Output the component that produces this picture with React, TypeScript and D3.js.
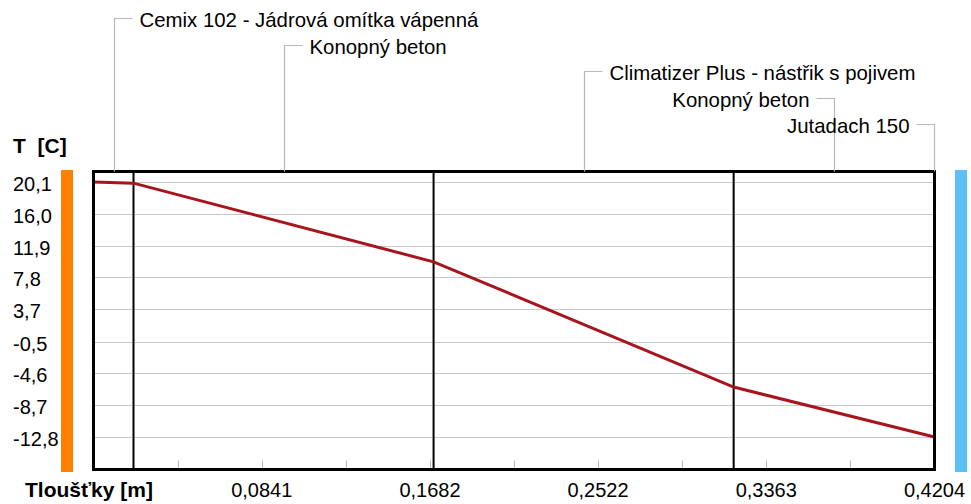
import * as d3 from "d3";
import React, { useEffect, useRef } from 'react'

// layers of the wall, thickness in m
const layerNames = [
  "Cemix 102 - Jádrová omítka vápenná",
  "Konopný beton",
  "Climatizer Plus - nástřik s pojivem",
  "Konopný beton",
  "Jutadach 150"
]
const layerBounds = [0, 0.02, 0.17, 0.32, 0.4200, 0.4204]

// temperature profile at layer boundaries
const tempX = [0, 0.02, 0.17, 0.32, 0.4204]
const tempY = [20.1, 19.95, 9.8, -6.35, -12.8]

const yTicks = [20.1, 16.0, 11.9, 7.8, 3.7, -0.5, -4.6, -8.7, -12.8]
const xTicks = [0.0841, 0.1682, 0.2522, 0.3363, 0.4204]
const xMinor = [0.042, 0.0841, 0.1261, 0.1682, 0.2102, 0.2522, 0.2943, 0.3363, 0.3784]

const W = 971
const H = 504
const font = "'Liberation Sans', Arial, sans-serif"

// czech number format: decimal comma, plain hyphen for minus
const fmt = (d: number, n: number) => d.toFixed(n).replace(".", ",")

const plotGraph = (el: SVGSVGElement) => {
  const svg = d3.select(el)
  svg.selectAll("*").remove()

  const x = d3.scaleLinear().domain([0, 0.4204]).range([93.5, 934.5])
  const y = d3.scaleLinear().domain([-16.99, 21.455]).range([469.5, 171.5])
  const [x0, x1] = x.range()
  const [y1, y0] = y.range()

  svg.append("rect").attr("width", W).attr("height", H).attr("fill", "#fff")

  // side bars: interior (warm) and exterior (cold)
  svg.append("rect").attr("x", 61).attr("y", 170).attr("width", 12).attr("height", 302).attr("fill", "#ff8000")
  svg.append("rect").attr("x", 955).attr("y", 170).attr("width", 12).attr("height", 302).attr("fill", "#5cbff5")

  // horizontal grid
  svg.append("g").selectAll("line").data(yTicks).enter().append("line")
    .attr("x1", x0).attr("x2", x1)
    .attr("y1", d => Math.round(y(d)) + 0.5).attr("y2", d => Math.round(y(d)) + 0.5)
    .attr("stroke", "#c8c8c8").attr("stroke-width", 1)

  // minor ticks on bottom
  svg.append("g").selectAll("line").data(xMinor).enter().append("line")
    .attr("x1", d => Math.round(x(d)) + 0.5).attr("x2", d => Math.round(x(d)) + 0.5)
    .attr("y1", y1 - 9).attr("y2", y1)
    .attr("stroke", "#b4b4b4")

  // layer boundaries
  const inner = layerBounds.slice(1, -1).filter(d => x(d) < x1 - 3)
  svg.append("g").selectAll("line").data(inner).enter().append("line")
    .attr("x1", d => x(d)).attr("x2", d => x(d))
    .attr("y1", y0).attr("y2", y1)
    .attr("stroke", "#000").attr("stroke-width", 2)

  // temperature line
  const line = d3.line<number>()
    .x((_, i) => x(tempX[i]))
    .y(d => y(d))
  svg.append("path").attr("d", line(tempY))
    .attr("fill", "none").attr("stroke", "#a8141c").attr("stroke-width", 3)

  // frame
  svg.append("rect").attr("x", x0).attr("y", y0).attr("width", x1 - x0).attr("height", y1 - y0)
    .attr("fill", "none").attr("stroke", "#000").attr("stroke-width", 3)

  // y labels
  svg.append("g").selectAll("text").data(yTicks).enter().append("text")
    .attr("x", 13).attr("y", d => y(d) + 2)
    .attr("dominant-baseline", "central")
    .style("font", `20px ${font}`)
    .text(d => fmt(d, 1))

  // x labels
  svg.append("g").selectAll("text").data(xTicks).enter().append("text")
    .attr("x", d => x(d)).attr("y", 497)
    .attr("text-anchor", "middle")
    .style("font", `20px ${font}`)
    .text(d => fmt(d, 4))

  svg.append("text").attr("x", 13).attr("y", 153)
    .style("font", `bold 21px ${font}`).attr("xml:space", "preserve").text("T  [C]")
  svg.append("text").attr("x", 25).attr("y", 497)
    .style("font", `bold 21px ${font}`).text("Tloušťky [m]")

  // layer labels with leaders
  layerNames.forEach((name, i) => {
    const mx = Math.round(x((layerBounds[i] + layerBounds[i + 1]) / 2)) + 0.5
    const cy = 20 + i * 26.5
    const ly = Math.round(cy - 2) + 0.5
    const t = svg.append("text").attr("y", cy).attr("dominant-baseline", "central")
      .style("font", `20.4px ${font}`).text(name)
    const tw = (t.node() as SVGTextElement).getComputedTextLength()
    const right = mx + 25 + tw < W
    const hx = right ? mx + 18 : mx - 18
    t.attr("x", right ? mx + 25 : mx - 25).attr("text-anchor", right ? "start" : "end")
    svg.append("path")
      .attr("d", `M${mx},${y0}V${ly}H${hx}`)
      .attr("fill", "none").attr("stroke", "#b8b8b8").attr("stroke-width", 1.2)
  })
}

export default function App() {
  const ref = useRef<SVGSVGElement>(null)
  useEffect(() => {
    if (ref.current) plotGraph(ref.current)
  })
  return (
    <svg ref={ref} width={W} height={H}
      style={{ position: 'absolute', left: 0, top: 0, display: 'block' }} />
  )
}
